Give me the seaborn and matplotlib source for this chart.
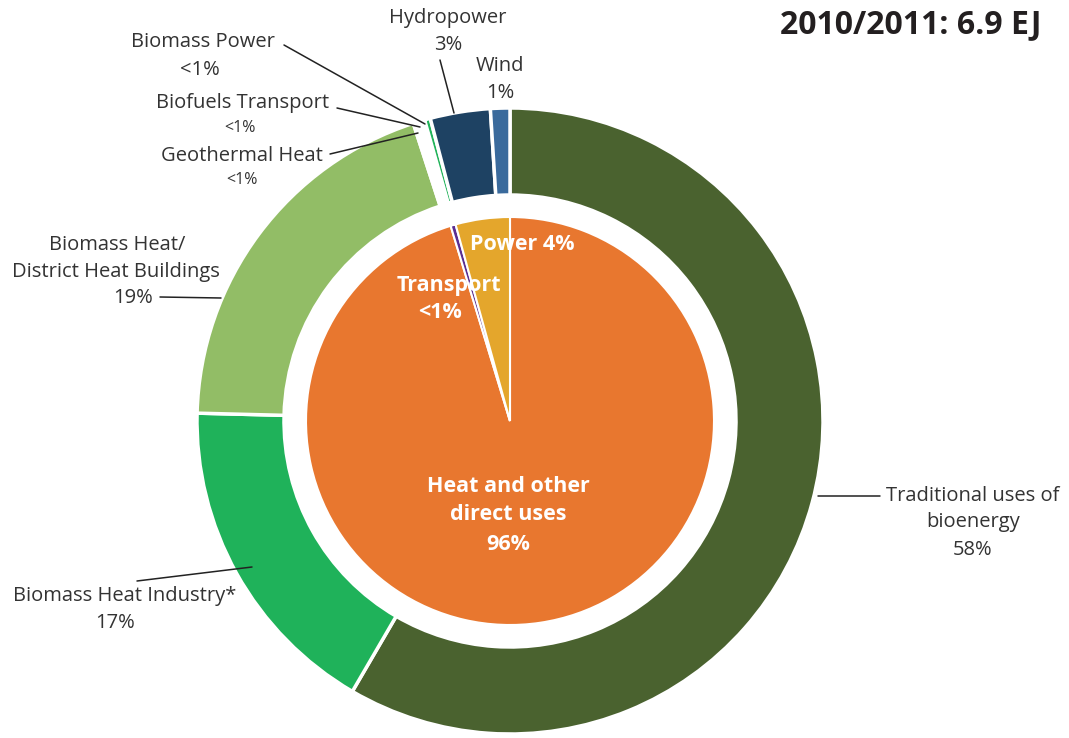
import numpy as np
import matplotlib
matplotlib.use("Agg")
import matplotlib.pyplot as plt
import seaborn as sns

# outer ring: final energy by source, clockwise from 12 o'clock (percent)
outer_labels = ["Traditional uses of bioenergy", "Biomass Heat Industry*",
                "Biomass Heat/District Heat Buildings", "Geothermal Heat",
                "Biofuels Transport", "Biomass Power", "Hydropower", "Wind"]
outer_values = [58.4, 17.0, 19.6, 0.35, 0.25, 0.3, 3.1, 1.0]
outer_colors = ["#4a622f", "#1fb25a", "#92bd66", "#ffffff",
                "#ffffff", "#22b35a", "#1e4263", "#3a6a9c"]

# inner pie: by end use
inner_labels = ["Heat and other direct uses", "Transport", "Power"]
inner_values = [95.3, 0.4, 4.3]
inner_colors = ["#e8772f", "#5b2e91", "#e4a62c"]

title = "2010/2011: 6.9 EJ"

sns.set_theme(style="white")
plt.rcParams["font.family"] = ["Open Sans", "DejaVu Sans"]

W, H = 1069, 738
fig = plt.figure(figsize=(W / 100, H / 100), dpi=100)
ax = fig.add_axes([0, 0, 1, 1])

cx, cy = 510, H - 421
R_out, ring_w, R_in = 313, 87, 204

ax.pie(outer_values, colors=outer_colors, startangle=90, counterclock=False,
       center=(cx, cy), radius=R_out,
       wedgeprops=dict(width=ring_w, edgecolor="white", linewidth=2.5))
ax.pie(inner_values, colors=inner_colors, startangle=90, counterclock=False,
       center=(cx, cy), radius=R_in,
       wedgeprops=dict(edgecolor="white", linewidth=1.5))
ax.set_xlim(0, W)
ax.set_ylim(0, H)
ax.set_aspect("equal")
ax.axis("off")


def y(v):
    return H - v


txt = dict(color="#333333", fontsize=14.5, ha="center", va="center")
small = dict(color="#333333", fontsize=11.5, ha="center", va="center")
line = dict(color="#222222", lw=1.1)

# leader-line labels
ax.text(448, y(18), "Hydropower", **txt)
ax.text(448, y(45), "3%", **txt)
ax.plot([440, 454], [y(60), y(113)], **line)

ax.text(500, y(66), "Wind", **txt)
ax.text(500, y(93), "1%", **txt)

ax.text(203, y(42), "Biomass Power", **txt)
ax.text(200, y(70), "<1%", **txt)
ax.plot([284, 425], [y(45), y(124)], **line)

ax.text(243, y(103), "Biofuels Transport", **txt)
ax.text(240, y(128), "<1%", **small)
ax.plot([337, 420], [y(108), y(127)], **line)

ax.text(242, y(156), "Geothermal Heat", **txt)
ax.text(242, y(180), "<1%", **small)
ax.plot([330, 418], [y(154), y(133)], **line)

ax.text(117, y(245), "Biomass Heat/", **txt)
ax.text(116, y(272), "District Heat Buildings", **txt)
ax.text(133, y(298), "19%", **txt)
ax.plot([160, 221], [y(297), y(298)], **line)

ax.text(125, y(596), "Biomass Heat Industry*", **txt)
ax.text(115, y(623), "17%", **txt)
ax.plot([137, 252], [y(581), y(567)], **line)

ax.text(973, y(496), "Traditional uses of", **txt)
ax.text(973, y(522), "bioenergy", **txt)
ax.text(973, y(550), "58%", **txt)
ax.plot([818, 880], [y(496), y(496)], **line)

# inner labels
inner_txt = dict(color="white", fontsize=15.5, fontweight="bold", ha="center", va="center")
ax.text(522, y(244), "Power 4%", **inner_txt)
ax.text(449, y(285), "Transport", **inner_txt)
ax.text(440, y(312), "<1%", **inner_txt)
ax.text(508, y(486), "Heat and other", **inner_txt)
ax.text(508, y(515), "direct uses", **inner_txt)
ax.text(508, y(545), "96%", **inner_txt)

ax.text(1042, y(25), title, color="#231f20", fontsize=23, fontweight="bold",
        ha="right", va="center")

fig.savefig("out.png", dpi=100)
